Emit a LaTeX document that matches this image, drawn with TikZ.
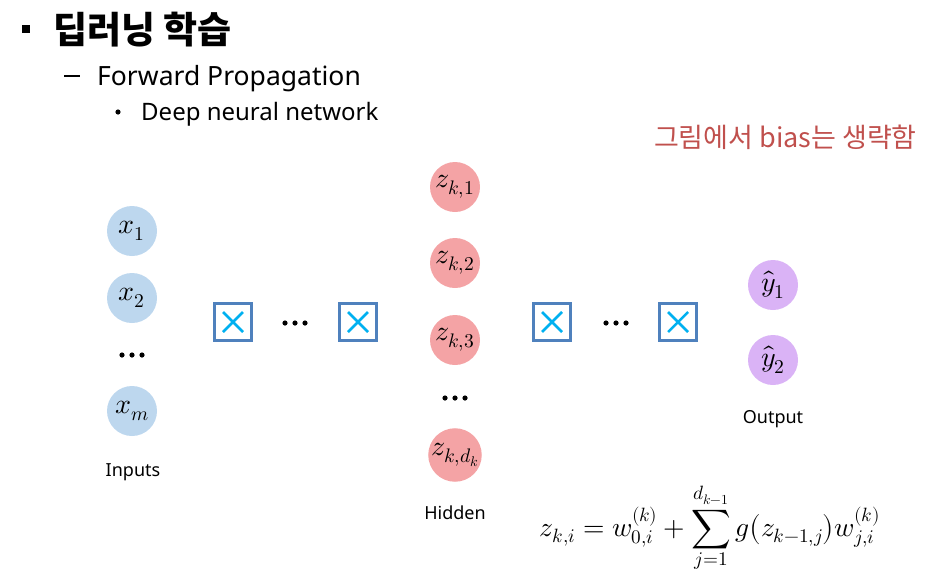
\documentclass[tikz,border=0pt]{standalone}
\usepackage{amsmath}
\usepackage{fontspec}
\usepackage{unicode-math}
\setmainfont{Noto Sans}
\setmathfont{Latin Modern Math}
\newfontfamily\krfont{Noto Sans CJK KR}
\definecolor{inblue}{HTML}{BDD7EE}
\definecolor{hidpink}{HTML}{F4A3A5}
\definecolor{outpurple}{HTML}{DAB3F6}
\definecolor{boxblue}{HTML}{4F81BD}
\definecolor{xcyan}{HTML}{00B0F0}
\definecolor{notered}{HTML}{C0504D}
\tikzset{
  neuron/.style={circle, minimum size=50pt, inner sep=0pt, font=\fontsize{28}{30}\selectfont},
  inp/.style={neuron, fill=inblue},
  hid/.style={neuron, fill=hidpink},
  outn/.style={neuron, fill=outpurple},
  mult/.style={draw=boxblue, line width=3pt, minimum size=37pt, inner sep=0pt,
    path picture={\draw[xcyan, line width=2.5pt]
      ([shift={(-10pt,-10pt)}]path picture bounding box.center) -- ([shift={(10pt,10pt)}]path picture bounding box.center)
      ([shift={(-10pt,10pt)}]path picture bounding box.center) -- ([shift={(10pt,-10pt)}]path picture bounding box.center);}},
  lbl/.style={font=\fontsize{18}{20}\selectfont, text=black},
  ellip/.pic={\foreach \dx in {-10,0,10} \fill[black] (\dx,0) circle (2.6);}
}
\begin{document}
\begin{tikzpicture}[x=1pt,y=-1pt]
\useasboundingbox (0,0) rectangle (933,581);
% headings
\fill[black] (22,25) rectangle (30,33);
\node[anchor=west, inner sep=0pt, font=\krfont\bfseries\fontsize{37}{40}\selectfont] (title) at (53,30) {딥러닝 학습};
\draw[line width=2pt] (64,76) -- (80,76);
\node[anchor=base west, inner sep=0pt, font=\fontsize{26.5}{30}\selectfont] (fwd) at (97,85) {Forward Propagation};
\fill[black] (118,112) circle (2.6);
\node[anchor=base west, inner sep=0pt, font=\fontsize{24}{28}\selectfont] (dnn) at (141,120) {Deep neural network};
\node[anchor=base east, inner sep=0pt, text=notered, font=\krfont\fontsize{27}{30}\selectfont] (note) at (917,147) {그림에서 bias는 생략함};
% inputs
\node[inp] (x1) at (132,231) {$x_1$};
\node[inp] (x2) at (132,298) {$x_2$};
\pic at (132,355) {ellip};
\node[inp] (xm) at (132,411) {$x_m$};
\node[lbl] (inlbl) at (133,472) {Inputs};
% multiplication boxes
\node[mult] (m1) at (233,322) {};
\pic at (295,323) {ellip};
\node[mult] (m2) at (358,322) {};
\node[mult] (m3) at (552,322) {};
\pic at (616,323) {ellip};
\node[mult] (m4) at (678,322) {};
% hidden
\node[hid] (z1) at (455,187) {$z_{k,1}$};
\node[hid] (z2) at (455,263) {$z_{k,2}$};
\node[hid] (z3) at (455,340) {$z_{k,3}$};
\pic at (455,398) {ellip};
\node[hid] (zd) at (455,455) {$z_{k,d_k}$};
\node[lbl] (hidlbl) at (455,513) {Hidden};
% outputs
\node[outn] (y1) at (773,285) {$\hat{y}_1$};
\node[outn] (y2) at (773,360) {$\hat{y}_2$};
\node[lbl] (outlbl) at (773,419) {Output};
% formula
\node[font=\fontsize{27.5}{30}\selectfont, inner sep=0pt] (eq) at (710,528)
  {$\displaystyle z_{k,i} = w_{0,i}^{(k)} + \sum_{j=1}^{d_{k-1}} g\bigl(z_{k-1,j}\bigr)w_{j,i}^{(k)}$};
\end{tikzpicture}
\end{document}
